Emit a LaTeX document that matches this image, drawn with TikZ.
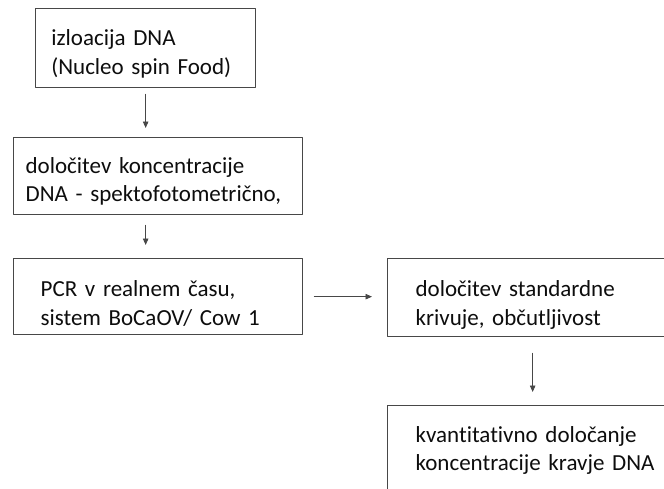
\documentclass[tikz,border=0pt]{standalone}
\usepackage{fontspec}
\setmainfont{Carlito}[Ligatures=NoCommon]
\hyphenpenalty=10000
\exhyphenpenalty=10000
\usetikzlibrary{arrows.meta}
\begin{document}
\begin{tikzpicture}[x=1pt,y=-1pt,line cap=round,line join=round,
  stagebox/.style={draw=black!72,line width=1.3pt,align=left,anchor=north west,
    inner ysep=0pt,text=black!95,font=\fontsize{23}{28.5}\selectfont},
  flow/.style={draw=black!72,line width=0.9pt,-{Triangle[length=6.5pt,width=5.5pt]}}]
  \useasboundingbox (0,0) rectangle (664,488);
  \clip (0,0) rectangle (664,488);
  \node[stagebox,inner xsep=15.7pt,text width=188.6pt,text height=37pt,text depth=42pt] (izolacija) at (35,8) {izloacija~DNA\\(Nucleo~spin~Food)};
  \node[stagebox,inner xsep=12pt,text width=265pt,text height=35.7pt,text depth=41.3pt] (koncentracija) at (13,137) {določitev~koncentracije\\DNA~-~spektofotometrično,};
  \node[stagebox,inner xsep=27pt,text width=235pt,text height=38pt,text depth=38pt] (pcr) at (13,258) {PCR~v~realnem~času,\\sistem~BoCaOV/~Cow~1};
  \node[stagebox,inner xsep=28pt,text width=234pt,text height=38pt,text depth=40pt] (krivulja) at (387,258) {določitev~standardne\\krivuje,~občutljivost};
  \node[stagebox,inner xsep=28pt,text width=274pt,text height=36.7pt,text depth=60pt] (kvantifikacija) at (387,405) {kvantitativno~določanje\\koncentracije~kravje~DNA};
  \draw[flow,shorten <=6pt,shorten >=9pt] (izolacija.south) -- (izolacija.south |- koncentracija.north);
  \draw[flow,shorten <=10pt,shorten >=13pt] (izolacija.south |- koncentracija.south) -- (izolacija.south |- pcr.north);
  \draw[flow,shorten <=11pt,shorten >=15pt] (pcr.east) -- (pcr.east -| krivulja.west);
  \draw[flow,shorten <=16pt,shorten >=13pt] (krivulja.south) -- (krivulja.south |- kvantifikacija.north);
\end{tikzpicture}
\end{document}
